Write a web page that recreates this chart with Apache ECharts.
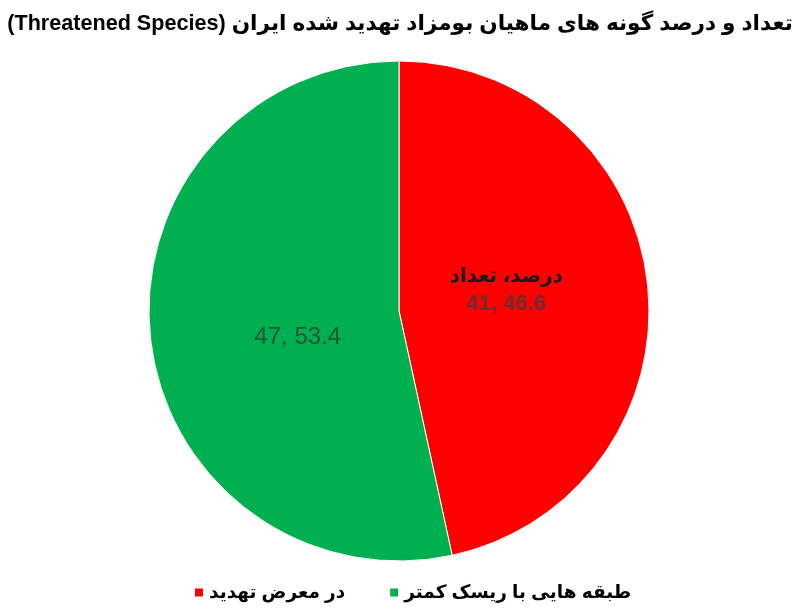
<!DOCTYPE html>
<html><head><meta charset="utf-8">
<script src="https://cdn.jsdelivr.net/npm/echarts@6/dist/echarts.min.js"></script>
<style>html,body{margin:0;padding:0;background:#fff}#c{width:800px;height:615px}</style>
</head><body><div id="c"></div>
<script>
var titleText = 'تعداد و درصد گونه های ماهیان بومزاد تهدید شده ایران (Threatened Species)';
var categories = ['در معرض تهدید', 'طبقه هایی با ریسک کمتر'];
var counts = [41, 47];
var percents = [46.6, 53.4];
var colors = ['#FF0000', '#00B050'];
var labelHeader = 'درصد، تعداد';

var RLE = '\u202B', PDF = '\u202C';
var chart = echarts.init(document.getElementById('c'));
var data = categories.map(function(n, i){
  return {name: n, value: counts[i], pct: percents[i], itemStyle: {color: colors[i]}};
});
chart.setOption({
  animation: false,
  title: {
    text: RLE + titleText + PDF, left: 'center', top: 8,
    textStyle: {fontFamily: 'Liberation Sans, DejaVu Sans, sans-serif', fontSize: 21.6, fontWeight: 'bold', color: '#000'}
  },
  legend: {
    bottom: 8, left: 188, itemWidth: 10, itemHeight: 10, itemGap: 43,
    icon: 'rect', data: categories,
    formatter: function(n){ return RLE + n + PDF; },
    textStyle: {fontFamily: 'Liberation Sans, DejaVu Sans, sans-serif', fontSize: 18.5, fontWeight: 'bold', color: '#000'}
  },
  series: [{
    type: 'pie', center: [399, 311], radius: 250, startAngle: 90, clockwise: true,
    itemStyle: {borderColor: '#fff', borderWidth: 1},
    emphasis: {disabled: true},
    label: {
      position: 'inside',
      formatter: function(p){
        if (p.dataIndex === 0) return '{h|' + RLE + labelHeader + PDF + '}\n{r|' + p.value + ', ' + p.data.pct + '}';
        return '{g|' + p.value + ', ' + p.data.pct + '}';
      },
      rich: {
        h: {fontFamily: 'Liberation Sans, DejaVu Sans, sans-serif', fontSize: 20, fontWeight: 'bold', color: '#1a1a1a', lineHeight: 28},
        r: {fontFamily: 'Liberation Sans, sans-serif', fontSize: 22, fontWeight: 'bold', color: 'rgba(60,60,60,0.75)', lineHeight: 28},
        g: {fontFamily: 'Liberation Sans, sans-serif', fontSize: 24, color: '#285538'}
      }
    },
    labelLayout: function(p){
      return p.dataIndex === 0 ? {dx: -20, dy: -7} : {dx: 26, dy: 13};
    },
    data: data
  }]
});
</script></body></html>
